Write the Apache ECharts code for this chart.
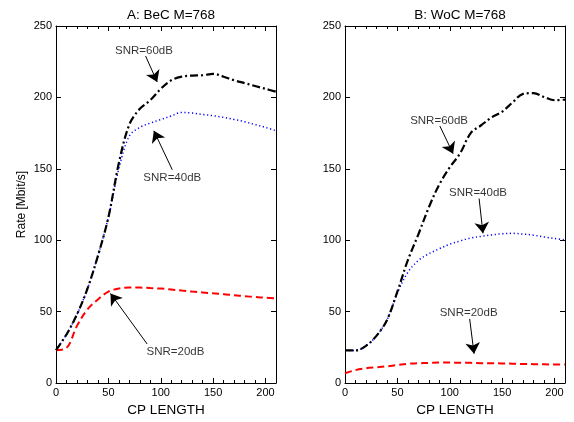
<!DOCTYPE html>
<html>
<head>
<meta charset="utf-8">
<script src="https://cdn.jsdelivr.net/npm/echarts@6/dist/echarts.min.js"></script>
<style>
  html, body { margin: 0; padding: 0; background: #fff; }
  #chart { width: 574px; height: 422px; }
</style>
</head>
<body>
<div id="chart"></div>
<script>
// CP length sampled every 10
var cpLength = [0, 10, 20, 30, 40, 50, 60, 70, 80, 90, 100, 110, 120, 130, 140, 150, 160, 170, 180, 190, 200, 210];

// A: BeC M=768
var becSnr60 = [23, 34, 48, 66, 89, 116, 154, 181, 192, 198, 206, 212, 214.5, 215.3, 215.5, 216.5, 214.5, 212, 210, 208, 206, 204];
var becSnr40 = [23, 34, 48, 66, 89, 116, 150, 173, 179, 182, 184.5, 187, 189.5, 189, 188, 187.2, 186, 184.6, 183, 181, 179, 176.6];
var becSnr20 = [23, 24.5, 40, 51.5, 58.5, 64, 66.2, 66.8, 66.8, 66.5, 66.1, 65.5, 64.7, 64, 63.4, 62.8, 62.2, 61.5, 60.8, 60.2, 59.7, 59.3];

// B: WoC M=768
var wocSnr60 = [22.8, 22.8, 26, 33, 44, 64, 86, 104, 123, 139, 151, 161, 175, 180.5, 186, 190, 196.5, 202.5, 203, 200.3, 198, 198.5];
var wocSnr40 = [22.8, 22.8, 26, 33, 44, 63, 77.5, 85.8, 90.5, 94, 97.2, 99.5, 101.5, 102.7, 103.7, 104.5, 104.8, 104.3, 103.5, 102.3, 101.2, 100.3];
var wocSnr20 = [6.8, 9, 10.3, 11, 11.7, 12.6, 13.5, 13.8, 14.1, 14.3, 14.3, 14.2, 14.1, 13.9, 13.8, 13.7, 13.5, 13.3, 13.2, 13.1, 13, 13];

var yTicks = [0, 50, 100, 150, 200, 250];

// annotations: label, text position, arrow tail, arrow head (data units)
var becNotes = [
  ['SNR=60dB', [84, 232.4], [85.5, 229], [96.6, 210.8]],
  ['SNR=40dB', [111, 143.5], [111, 149.3], [93.4, 176.6]],
  ['SNR=20dB', [114, 21.7], [87, 27.3], [52, 62.7]]
];
var wocNotes = [
  ['SNR=60dB', [89.8, 183.5], [90.5, 180], [103.2, 160.6]],
  ['SNR=40dB', [127, 133.3], [128, 129.2], [131.7, 104.8]],
  ['SNR=20dB', [118, 49], [119, 44.9], [123.2, 20.5]]
];

var FONT = 'Liberation Sans, Arial, Helvetica, sans-serif';

function pairs(ys) {
  return cpLength.map(function (x, i) { return [x, ys[i]]; });
}

function xAxes(gi) {
  var base = {
    gridIndex: gi, type: 'value', min: 0, max: 210, interval: 50,
    axisLine: { show: true, onZero: false, lineStyle: { color: '#000', width: 1 } },
    axisTick: { show: true, inside: true, length: 5, lineStyle: { color: '#000' } },
    minorTick: { show: true, splitNumber: 5, length: 3, lineStyle: { color: '#000' } },
    splitLine: { show: false }
  };
  var bottom = Object.assign({}, base, {
    position: 'bottom',
    name: 'CP LENGTH', nameLocation: 'middle', nameGap: 20,
    nameTextStyle: { fontFamily: FONT, fontSize: 13.5, color: '#000' },
    axisLabel: { show: true, showMaxLabel: false, margin: 4, fontFamily: FONT, fontSize: 11, color: '#000' }
  });
  var top = Object.assign({}, base, { position: 'top', axisLabel: { show: false } });
  return [bottom, top];
}

function yAxes(gi, withName) {
  var base = {
    gridIndex: gi, type: 'value', min: 0, max: 250, interval: 50,
    axisLine: { show: true, onZero: false, lineStyle: { color: '#000', width: 1 } },
    axisTick: { show: true, inside: true, length: 5, lineStyle: { color: '#000' } },
    splitLine: { show: false }
  };
  var left = Object.assign({}, base, {
    position: 'left',
    axisLabel: { show: true, margin: 4, fontFamily: FONT, fontSize: 11, color: '#000' }
  });
  if (withName) {
    left.name = 'Rate [Mbit/s]';
    left.nameLocation = 'middle';
    left.nameGap = 28;
    left.nameTextStyle = { fontFamily: FONT, fontSize: 12, color: '#000' };
  }
  var right = Object.assign({}, base, { position: 'right', axisLabel: { show: false } });
  return [left, right];
}

function curve(ax, ys, color, dash, width) {
  return {
    type: 'line', xAxisIndex: ax, yAxisIndex: ax, data: pairs(ys),
    smooth: 0.35, symbol: 'none', silent: true,
    lineStyle: { color: color, width: width, type: dash }
  };
}

// arrows drawn as markLines on a carrier line series
function arrows(ax, list) {
  return {
    type: 'line', xAxisIndex: ax, yAxisIndex: ax, data: [], symbol: 'none', silent: true,
    markLine: {
      silent: true, symbol: ['none', 'arrow'], symbolSize: 11, precision: 3,
      label: { show: false },
      itemStyle: { color: '#000' },
      lineStyle: { color: '#000', width: 1, type: 'solid' },
      emphasis: { disabled: true },
      data: list.map(function (n) { return [{ coord: n[2] }, { coord: n[3] }]; })
    }
  };
}

function labels(ax, list) {
  return {
    type: 'scatter', xAxisIndex: ax, yAxisIndex: ax, symbolSize: 0, silent: true,
    data: list.map(function (n) { return { name: n[0], value: n[1] }; }),
    label: {
      show: true, position: 'inside', formatter: '{b}',
      fontFamily: FONT, fontSize: 11.5, color: '#000'
    }
  };
}

var chart = echarts.init(document.getElementById('chart'));
var dashDot = [8, 3, 2, 3];
var dotted = [1.2, 2.6];
var dashed = [7, 4];

chart.setOption({
  animation: false,
  backgroundColor: '#fff',
  title: [
    { text: 'A: BeC M=768', left: 166, top: 3, textAlign: 'center',
      textStyle: { fontFamily: FONT, fontSize: 13.5, fontWeight: 'normal', color: '#000' } },
    { text: 'B: WoC M=768', left: 455, top: 3, textAlign: 'center',
      textStyle: { fontFamily: FONT, fontSize: 13.5, fontWeight: 'normal', color: '#000' } }
  ],
  grid: [
    { left: 56, top: 26, width: 220, height: 366 },
    { left: 345, top: 26, width: 220, height: 366 }
  ],
  xAxis: xAxes(0).concat(xAxes(1)),
  yAxis: yAxes(0, true).concat(yAxes(1, false)),
  series: [
    curve(0, becSnr20, '#ff0000', dashed, 2),
    curve(0, becSnr40, '#0000ff', dotted, 1.5),
    curve(0, becSnr60, '#000000', dashDot, 2.2),
    curve(2, wocSnr20, '#ff0000', dashed, 2),
    curve(2, wocSnr40, '#0000ff', dotted, 1.5),
    curve(2, wocSnr60, '#000000', dashDot, 2.2),
    arrows(0, becNotes),
    arrows(2, wocNotes),
    labels(0, becNotes),
    labels(2, wocNotes)
  ]
});
</script>
</body>
</html>
